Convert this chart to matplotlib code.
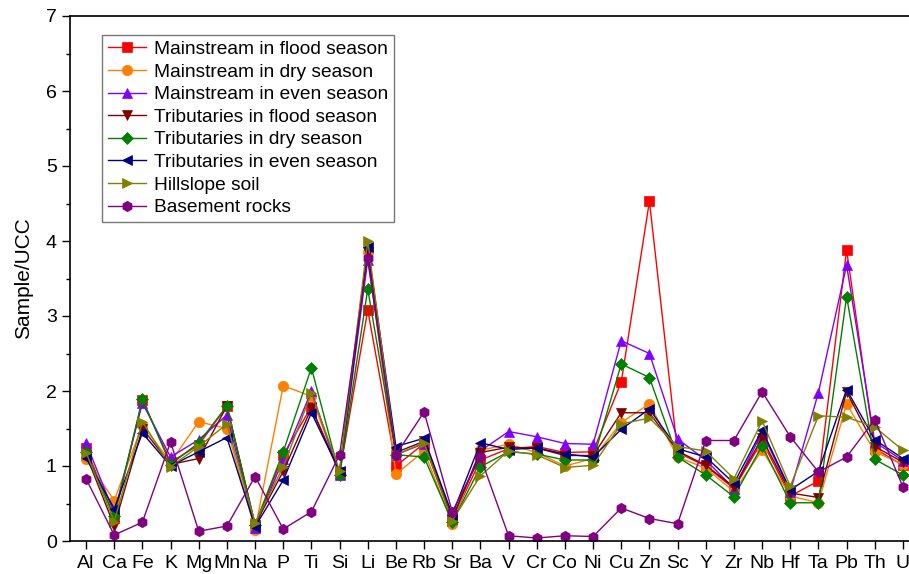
import numpy as np
import matplotlib
matplotlib.use('Agg')
import matplotlib.pyplot as plt
from matplotlib.ticker import MultipleLocator

plt.rcParams['font.family'] = ['Liberation Sans', 'DejaVu Sans']

#elements (normalised to upper continental crust)
elements = ['Al', 'Ca', 'Fe', 'K', 'Mg', 'Mn', 'Na', 'P', 'Ti', 'Si', 'Li', 'Be', 'Rb', 'Sr', 'Ba',
            'V', 'Cr', 'Co', 'Ni', 'Cu', 'Zn', 'Sc', 'Y', 'Zr', 'Nb', 'Hf', 'Ta', 'Pb', 'Th', 'U']

main_flood = [1.24, 0.31, 1.88, 1.05, 1.28, 1.80, 0.20, 1.15, 1.79, 0.90, 3.08, 1.00, 1.30, 0.28, 1.08,
              1.23, 1.26, 1.18, 1.19, 2.12, 4.53, 1.18, 1.00, 0.70, 1.33, 0.60, 0.80, 3.88, 1.23, 1.01]
main_dry = [1.09, 0.54, 1.55, 1.05, 1.59, 1.50, 0.15, 2.07, 1.93, 0.90, 3.85, 0.89, 1.20, 0.23, 1.21,
            1.29, 1.18, 1.00, 1.10, 1.58, 1.83, 1.12, 0.97, 0.66, 1.21, 0.60, 0.51, 1.83, 1.19, 1.02]
main_even = [1.31, 0.37, 1.84, 1.12, 1.35, 1.68, 0.18, 1.09, 2.00, 0.88, 3.75, 1.15, 1.30, 0.30, 1.20,
             1.46, 1.39, 1.30, 1.29, 2.67, 2.50, 1.36, 1.08, 0.70, 1.45, 0.66, 1.98, 3.68, 1.32, 1.07]
trib_flood = [1.15, 0.20, 1.50, 1.02, 1.10, 1.80, 0.22, 0.93, 1.77, 0.92, 3.86, 1.18, 1.33, 0.30, 1.18,
              1.25, 1.24, 1.14, 1.14, 1.71, 1.71, 1.20, 1.01, 0.72, 1.37, 0.64, 0.58, 1.99, 1.26, 1.05]
trib_dry = [1.19, 0.33, 1.89, 1.02, 1.31, 1.80, 0.22, 1.19, 2.31, 0.88, 3.36, 1.15, 1.12, 0.25, 0.99,
            1.19, 1.16, 1.08, 1.08, 2.36, 2.18, 1.12, 0.88, 0.59, 1.27, 0.51, 0.51, 3.26, 1.09, 0.88]
trib_even = [1.11, 0.43, 1.44, 1.00, 1.19, 1.38, 0.19, 0.81, 1.71, 0.93, 3.92, 1.26, 1.37, 0.35, 1.31,
             1.22, 1.24, 1.16, 1.12, 1.49, 1.76, 1.23, 1.12, 0.77, 1.48, 0.68, 0.93, 2.02, 1.35, 1.10]
hill_soil = [1.18, 0.26, 1.59, 0.99, 1.26, 1.56, 0.24, 0.99, 1.97, 0.94, 4.00, 1.15, 1.31, 0.27, 0.87,
             1.20, 1.15, 0.98, 1.01, 1.56, 1.64, 1.26, 1.20, 0.83, 1.60, 0.73, 1.67, 1.65, 1.52, 1.21]
basement = [0.83, 0.08, 0.25, 1.32, 0.13, 0.20, 0.86, 0.16, 0.39, 1.15, 3.78, 1.15, 1.72, 0.39, 1.12,
            0.07, 0.04, 0.07, 0.06, 0.44, 0.30, 0.23, 1.34, 1.34, 1.99, 1.39, 0.92, 1.12, 1.62, 0.72]

series = [
    ('Mainstream in flood season', main_flood, '#FF0000', 's'),
    ('Mainstream in dry season', main_dry, '#FF8000', 'o'),
    ('Mainstream in even season', main_even, '#8000FF', '^'),
    ('Tributaries in flood season', trib_flood, '#800000', 'v'),
    ('Tributaries in dry season', trib_dry, '#008000', 'D'),
    ('Tributaries in even season', trib_even, '#000080', '<'),
    ('Hillslope soil', hill_soil, '#808000', '>'),
    ('Basement rocks', basement, '#800080', 'h'),
]

x = np.arange(1, len(elements) + 1)

fig = plt.figure(figsize=(9.09, 5.74), dpi=100)
ax = fig.add_axes([70/909, 33/574, 849/909, 525/574])

for name, vals, col, mk in series:
    ms = 6.5 if mk == 'D' else 7.5
    ax.plot(x, vals, color=col, marker=mk, markersize=ms, linewidth=1.0,
            markeredgewidth=0.5, label=name)

ax.set_xlim(0.43, 30.57)
ax.set_ylim(0, 7)
ax.set_xticks(x)
ax.set_xticklabels(elements)
ax.yaxis.set_major_locator(MultipleLocator(1))
ax.yaxis.set_minor_locator(MultipleLocator(0.5))
ax.tick_params(axis='both', which='major', direction='out', length=6, width=1, labelsize=14)
ax.tick_params(axis='x', which='major', pad=4)
ax.tick_params(axis='y', which='minor', direction='out', length=3, width=1)
ax.set_ylabel('Sample/UCC', fontsize=15, labelpad=9)
for sp in ax.spines.values():
    sp.set_linewidth(1.2)

leg = ax.legend(loc='upper left', bbox_to_anchor=(0.0377, 0.964), fontsize=13.8,
                frameon=True, fancybox=False, edgecolor='#777777', framealpha=1,
                handlelength=2.0, labelspacing=0.27, borderpad=0.3, handletextpad=0.4,
                borderaxespad=0)
leg.get_frame().set_linewidth(1.0)

fig.savefig('out.png', dpi=100)
